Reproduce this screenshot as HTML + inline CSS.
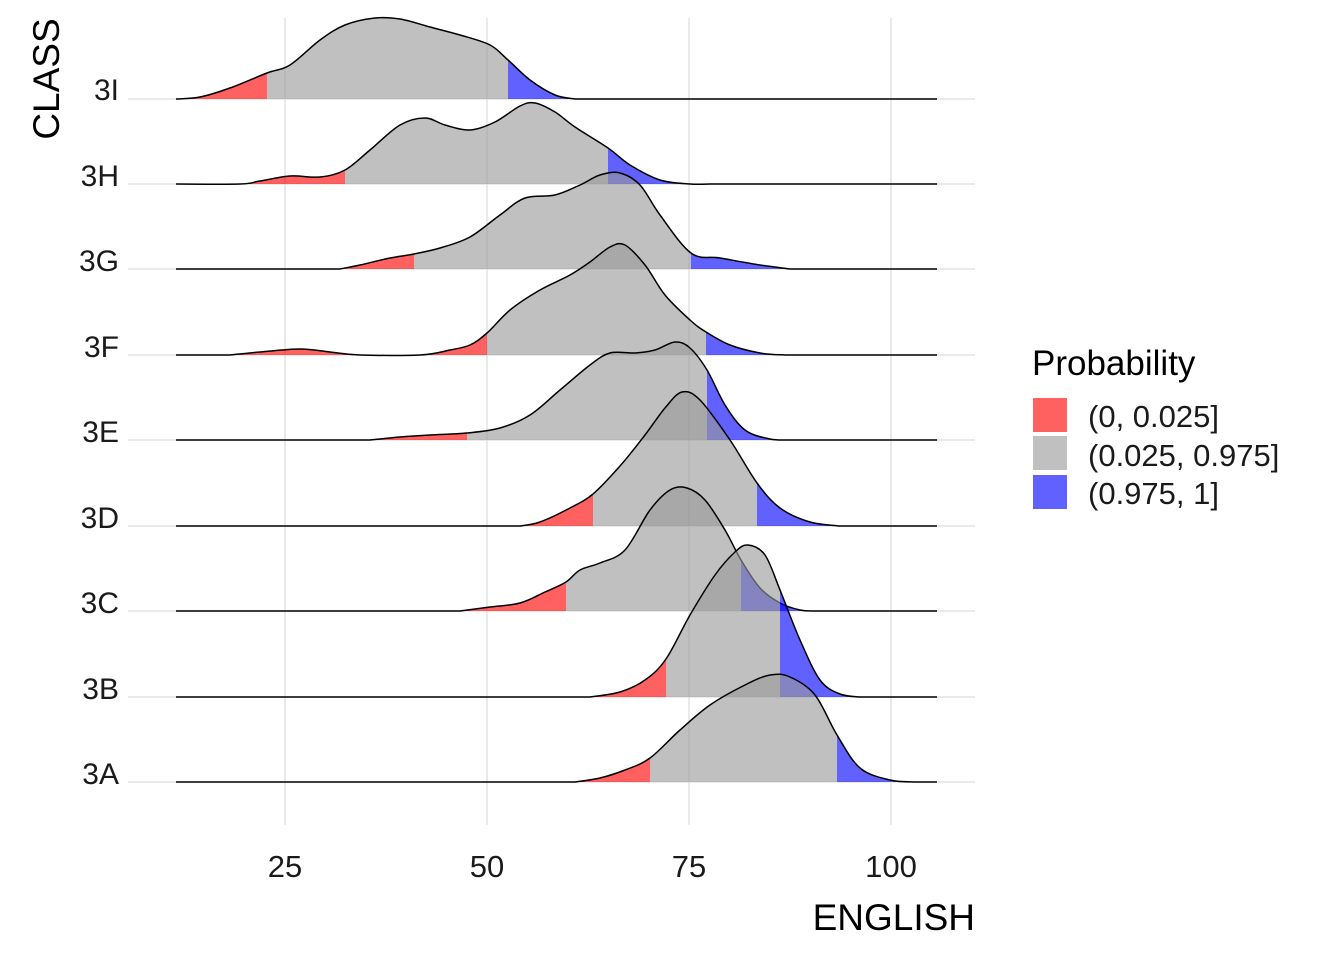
<!DOCTYPE html>
<html><head><meta charset="utf-8"><style>
html,body{margin:0;padding:0;background:#fff;}
svg{display:block;font-family:"Liberation Sans",Arial,sans-serif;}
</style></head><body>
<svg id="s" width="1344" height="960" xmlns="http://www.w3.org/2000/svg">
<g stroke="#DEDEDE" stroke-width="1.3">
<line x1="285" y1="18" x2="285" y2="825"/><line x1="487" y1="18" x2="487" y2="825"/>
<line x1="689" y1="18" x2="689" y2="825"/><line x1="891" y1="18" x2="891" y2="825"/>
<line x1="128" y1="99" x2="975" y2="99"/><line x1="128" y1="184" x2="975" y2="184"/>
<line x1="128" y1="269" x2="975" y2="269"/><line x1="128" y1="355" x2="975" y2="355"/>
<line x1="128" y1="440" x2="975" y2="440"/><line x1="128" y1="526" x2="975" y2="526"/>
<line x1="128" y1="611" x2="975" y2="611"/><line x1="128" y1="697" x2="975" y2="697"/>
<line x1="128" y1="782" x2="975" y2="782"/>
</g>
<g id="ridges"></g>
<g font-size="30" fill="#1a1a1a" text-anchor="end">
<text x="119" y="100">3I</text><text x="119" y="186">3H</text><text x="119" y="271">3G</text>
<text x="119" y="357">3F</text><text x="119" y="442">3E</text><text x="119" y="528">3D</text>
<text x="119" y="613">3C</text><text x="119" y="699">3B</text><text x="119" y="784">3A</text>
</g>
<g font-size="31" fill="#1a1a1a" text-anchor="middle">
<text x="285" y="877">25</text><text x="487" y="877">50</text><text x="689" y="877">75</text><text x="891" y="877">100</text>
</g>
<text x="975" y="930" font-size="37" text-anchor="end" fill="#000">ENGLISH</text>
<text transform="translate(59,79) rotate(-90)" font-size="37" text-anchor="middle" fill="#000">CLASS</text>
<text x="1032" y="375" font-size="35" fill="#000">Probability</text>
<rect x="1033" y="398" width="34" height="34" fill="rgba(255,0,0,0.62)"/>
<rect x="1033" y="436" width="34" height="34" fill="rgba(153,153,153,0.62)"/>
<rect x="1033" y="475" width="34" height="34" fill="rgba(0,0,255,0.62)"/>
<g font-size="31" fill="#1a1a1a">
<text x="1088" y="427">(0, 0.025]</text><text x="1088" y="466">(0.025, 0.975]</text><text x="1088" y="504">(0.975, 1]</text>
</g>
</svg>
<script>
var R=[
[99,267,508,[[176,99],[200,97],[230,88],[267,73],[290,65],[320,40],[345,25],[375,18],[400,19],[430,27],[460,35],[490,45],[508,60],[530,80],[555,95],[575,99]]],
[184,345,608,[[176,184],[240,184],[260,181],[290,176],[320,177],[345,170],[370,150],[400,125],[425,118],[445,125],[470,130],[495,122],[520,106],[535,103],[555,112],[575,127],[608,148],[630,165],[660,180],[690,184],[710,184]]],
[269,414,691,[[340,269],[360,265],[390,258],[414,254],[440,248],[470,237],[500,215],[525,198],[555,195],[580,185],[600,175],[620,173],[640,185],[660,215],[691,253],[720,258],[760,265],[790,269]]],
[355,487,706,[[230,355],[260,352],[300,349],[330,352],[360,355],[420,355],[450,350],[470,345],[487,333],[510,310],[540,290],[570,275],[590,262],[610,247],[625,245],[645,265],[665,295],[690,320],[706,332],[730,345],[760,353],[785,355]]],
[440,467,707,[[370,440],[400,437],[430,435],[467,433],[500,428],[530,415],[560,390],[590,365],[610,353],[635,353],[655,350],[675,342],[690,348],[707,370],[725,405],[745,430],[770,439],[790,440]]],
[526,593,757,[[520,526],[540,522],[570,508],[593,494],[620,466],[645,435],[665,408],[682,392],[700,400],[730,440],[757,483],[780,508],[810,522],[840,526]]],
[611,566,741,[[460,611],[490,607],[520,603],[545,592],[566,582],[580,570],[600,563],[625,550],[650,510],[670,490],[687,488],[705,500],[725,530],[741,560],[760,588],[780,603],[800,610],[815,611]]],
[697,666,780,[[590,697],[620,692],[645,680],[666,659],[690,615],[715,575],[735,552],[748,545],[765,555],[780,590],[800,640],[820,680],[840,694],[860,697]]],
[782,650,837,[[575,782],[600,778],[625,770],[650,758],[680,730],[710,705],[745,685],[770,675],[790,677],[815,695],[837,735],[860,768],[890,780],[915,782]]]
];
function cr(p){var d="M"+p[0][0]+","+p[0][1];for(var i=0;i<p.length-1;i++){var a=p[Math.max(i-1,0)],b=p[i],c=p[i+1],e=p[Math.min(i+2,p.length-1)];
d+=" C"+(b[0]+(c[0]-a[0])/6).toFixed(1)+","+(b[1]+(c[1]-a[1])/6).toFixed(1)+" "+(c[0]-(e[0]-b[0])/6).toFixed(1)+","+(c[1]-(e[1]-b[1])/6).toFixed(1)+" "+c[0]+","+c[1];}return d;}
var h="";R.forEach(function(r,k){var y=r[0],p=r[3],c=cr(p);var f=c+" L"+p[p.length-1][0]+","+y+" L"+p[0][0]+","+y+"Z";
h+='<clipPath id="a'+k+'"><rect x="0" y="0" width="'+r[1]+'" height="960"/></clipPath>';
h+='<clipPath id="b'+k+'"><rect x="'+r[1]+'" y="0" width="'+(r[2]-r[1])+'" height="960"/></clipPath>';
h+='<clipPath id="c'+k+'"><rect x="'+r[2]+'" y="0" width="600" height="960"/></clipPath>';
h+='<path d="'+f+'" fill="rgba(255,0,0,0.62)" clip-path="url(#a'+k+')"/>';
h+='<path d="'+f+'" fill="rgba(153,153,153,0.62)" clip-path="url(#b'+k+')"/>';
h+='<path d="'+f+'" fill="rgba(0,0,255,0.62)" clip-path="url(#c'+k+')"/>';
h+='<path d="M176,'+y+' L'+p[0][0]+','+y+' '+c.slice(1).replace(/^[^C]*/,function(m){return "L"+m;})+' L937,'+y+'" fill="none" stroke="#000" stroke-width="1.5"/>';});
document.getElementById("ridges").innerHTML=h;
</script>
</body></html>
